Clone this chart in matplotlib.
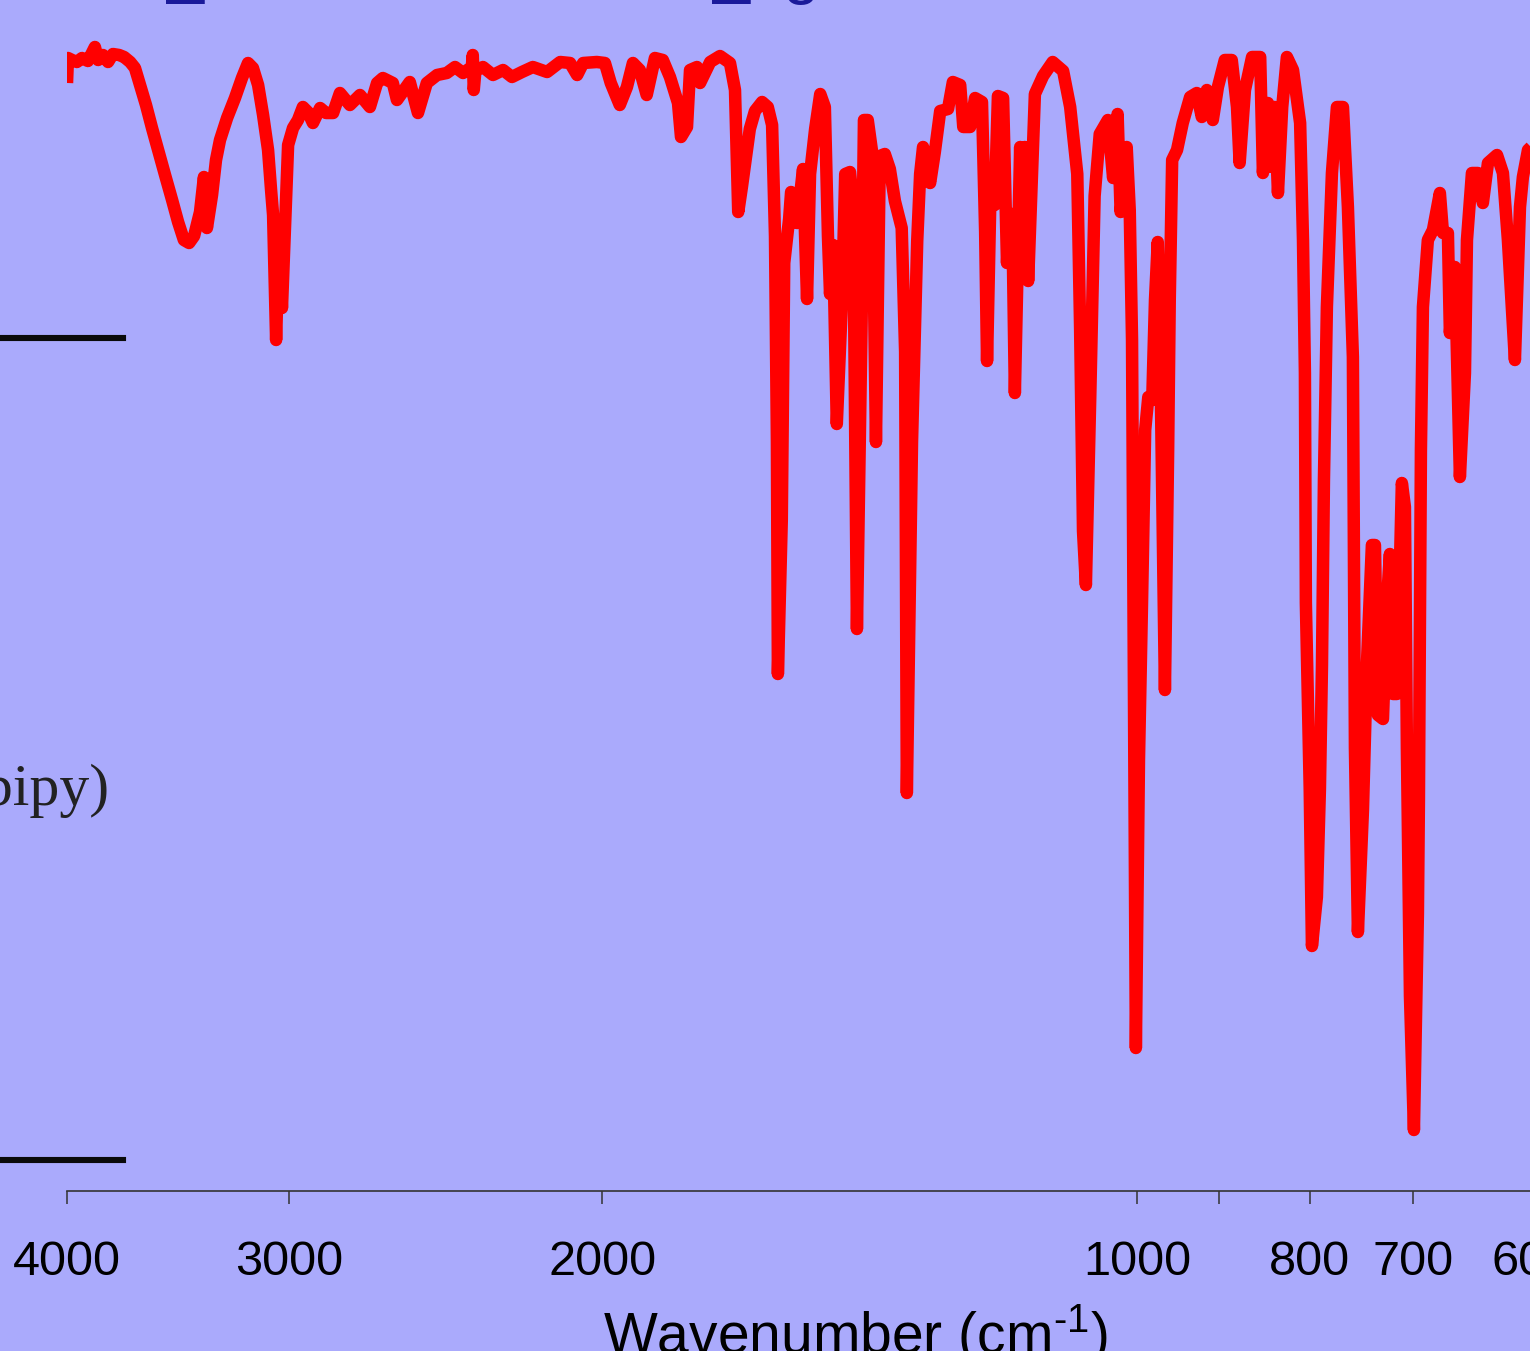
import matplotlib
matplotlib.use("Agg")
import matplotlib.pyplot as plt
from matplotlib.lines import Line2D
from matplotlib.ticker import FixedLocator, FixedFormatter, NullLocator

plt.rcParams['font.family'] = ['Liberation Sans', 'DejaVu Sans']
plt.rcParams['mathtext.fontset'] = 'custom'
plt.rcParams['mathtext.rm'] = 'Liberation Sans'

# IR spectrum
wavenumber = [
    4000, 3995, 3974, 3949, 3923, 3893, 3858, 3842, 3818, 3793, 3769, 3739, 3715, 3686, 3663,
    3639, 3611, 3583, 3555, 3523, 3491, 3464, 3438, 3415, 3393, 3367, 3350, 3337, 3315, 3298,
    3281, 3251, 3218, 3189, 3164, 3144, 3123, 3103, 3083, 3071, 3063, 3051, 3040, 3028, 3012,
    3004, 2985, 2966, 2947, 2928, 2909, 2882, 2860, 2834, 2809, 2773, 2737, 2702, 2677, 2657,
    2623, 2609, 2566, 2539, 2510, 2477, 2446, 2420, 2395, 2368, 2365, 2362, 2357, 2334, 2304,
    2274, 2248, 2219, 2188, 2148, 2112, 2085, 2066, 2050, 2014, 1993, 1978, 1955, 1937, 1922,
    1905, 1888, 1868, 1849, 1832, 1813, 1806, 1792, 1785, 1769, 1762, 1739, 1717, 1695, 1684,
    1677, 1669, 1652, 1641, 1626, 1614, 1605, 1599, 1595, 1593, 1585, 1580, 1570, 1566, 1554,
    1542, 1534, 1528, 1518, 1508, 1499, 1493, 1489, 1483, 1476, 1466, 1460, 1451, 1445, 1438,
    1429, 1425, 1418, 1410, 1403, 1396, 1387, 1378, 1369, 1357, 1351, 1348, 1343, 1339, 1330,
    1325, 1320, 1308, 1300, 1291, 1278, 1270, 1258, 1253, 1242, 1234, 1223, 1218, 1215, 1210,
    1203, 1198, 1190, 1184, 1181, 1176, 1172, 1164, 1161, 1157, 1152, 1145, 1142, 1130, 1116,
    1101, 1091, 1081, 1077, 1073, 1069, 1063, 1057, 1050, 1043, 1039, 1032, 1026, 1022, 1014,
    1010, 1007, 1004.5, 1002, 998, 994, 990, 986, 981, 977.5, 974, 970, 965, 961, 959,
    956, 950, 943, 934, 926, 920, 914, 907, 901, 893, 885, 879, 876, 870, 862,
    853, 850, 844.5, 840, 837, 833.6, 829, 824, 817.5, 810, 807, 805, 804, 800, 797.7,
    792.6, 789.5, 787.4, 785.4, 782.4, 777.3, 772.3, 766.3, 761.4, 756.5, 754.5, 751.6, 746.7, 742.9, 738.1,
    735.2, 732.4, 727.6, 723.9, 721.1, 718.3, 714.6, 710, 707.2, 705.4, 702.6, 699, 695.4, 694.5, 692.7,
    690.9, 686.5, 682, 675.9, 673.2, 668.9, 667.2, 662.9, 658.6, 654.3, 652.6, 648.4, 643.4, 639.3, 635.1,
    627.7, 622.9, 618.9, 613.3, 609.3, 607, 603, 599,
]
transmittance = [
    110.8, 113.3, 113.1, 112.9, 113.3, 113.0, 114.4, 113.1, 113.6, 112.9, 113.7, 113.6, 113.4, 112.9, 112.3,
    110.6, 108.6, 106.3, 104.1, 101.6, 99.1, 96.9, 95.1, 94.8, 95.5, 97.9, 101.4, 96.3, 99.6, 103.1,
    105.1, 107.3, 109.3, 111.3, 112.8, 112.3, 110.6, 107.6, 104.1, 100.1, 97.6, 85.1, 95.9, 88.3, 99.1,
    104.6, 106.3, 107.1, 108.4, 107.9, 106.8, 108.3, 107.8, 107.8, 109.8, 108.6, 109.6, 108.4, 110.8, 111.3,
    110.8, 109.1, 110.9, 107.8, 110.8, 111.6, 111.8, 112.4, 111.8, 112.4, 113.6, 110.1, 112.0, 112.4, 111.6,
    112.1, 111.4, 111.9, 112.4, 111.9, 112.9, 112.8, 111.6, 112.8, 112.9, 112.8, 110.8, 108.6, 110.4, 112.8,
    112.1, 109.6, 113.3, 113.1, 111.4, 108.8, 105.4, 106.4, 112.1, 112.4, 110.8, 112.9, 113.5, 112.8, 110.1,
    97.9, 100.4, 106.2, 108.0, 108.9, 108.4, 106.6, 95.5, 74.9, 51.7, 67.1, 92.8, 97.2, 99.9, 96.8,
    102.2, 89.2, 101.7, 106.2, 109.7, 108.4, 95.5, 89.7, 94.6, 76.7, 89.2, 101.7, 101.9, 98.6, 56.2,
    88.3, 107.1, 107.1, 103.9, 74.9, 103.5, 103.7, 102.2, 99.0, 96.3, 83.9, 39.8, 59.1, 74.9, 95.0,
    101.7, 104.4, 100.8, 103.9, 108.0, 108.2, 110.9, 110.6, 106.4, 106.4, 109.3, 108.9, 95.9, 83.0, 98.6,
    98.6, 109.5, 109.3, 92.8, 97.2, 97.7, 79.8, 104.4, 91.9, 104.4, 91.0, 103.9, 109.7, 111.5, 112.9,
    112.0, 108.4, 101.7, 86.1, 66.0, 60.6, 79.4, 99.5, 105.7, 106.6, 107.1, 101.3, 107.7, 97.9, 104.4,
    98.1, 85.1, 49.1, 14.3, 43.1, 59.1, 76.1, 79.4, 79.1, 89.1, 94.9, 79.1, 50.1, 74.1, 89.1,
    103.1, 104.1, 106.8, 109.4, 109.8, 107.4, 110.1, 107.1, 110.4, 113.1, 113.1, 108.4, 102.8, 110.1, 113.4,
    113.4, 101.8, 108.8, 102.4, 108.4, 99.8, 108.4, 113.4, 112.1, 106.8, 95.1, 81.8, 58.8, 40.2, 24.5,
    29.4, 40.2, 52.6, 71.1, 88.4, 101.8, 108.4, 108.4, 98.4, 83.4, 44.3, 25.9, 38.1, 52.6, 64.6,
    64.6, 47.6, 47.2, 58.8, 63.7, 49.7, 49.7, 70.8, 68.4, 44.3, 19.5, 6.1, 27.8, 39.1, 74.1,
    88.4, 95.1, 96.1, 99.8, 95.8, 95.8, 85.8, 92.4, 71.4, 81.8, 95.1, 101.8, 101.8, 98.8, 102.8,
    103.6, 101.8, 95.1, 83.1, 98.4, 101.4, 104.1, 104.6,
]

tick_values = [4000, 3000, 2000, 1000, 900, 800, 700, 600]
tick_labels = ['4000', '3000', '2000', '1000', '', '800', '700', '600']

bg = '#AAAAFC'
fig = plt.figure(figsize=(15.3, 13.51), dpi=100, facecolor=bg)
ax = fig.add_axes([67 / 1530, 160 / 1351, 1473 / 1530, 1191 / 1351])
ax.set_facecolor(bg)

ax.plot(wavenumber, transmittance, color='#FF0000', lw=9, solid_joinstyle='round',
        solid_capstyle='butt')

ax.set_xscale('log')
ax.set_xlim(4000, 593.7)
ax.set_ylim(0, 119.1)
ax.xaxis.set_major_locator(FixedLocator(tick_values))
ax.xaxis.set_major_formatter(FixedFormatter(tick_labels))
ax.xaxis.set_minor_locator(NullLocator())
ax.set_yticks([])
for s in ['left', 'right', 'top']:
    ax.spines[s].set_visible(False)
ax.spines['bottom'].set_color('#333333')
ax.spines['bottom'].set_linewidth(1.2)
ax.tick_params(axis='x', direction='out', length=9.5, width=1.1, color='#333333',
               labelsize=35, pad=26, labelcolor='black')

# hyphen (U+2010) instead of the long mathtext minus
fig.text(855 / 1530, -3 / 1351, 'Wavenumber (cm$^{\\mathregular{\u20101}}$)', ha='center',
         va='baseline', fontsize=41, color='black')

# pieces of neighbouring panels cut by the crop
for yy in [338, 1160]:
    fig.add_artist(Line2D([0, 123 / 1530], [1 - yy / 1351, 1 - yy / 1351],
                          color='#0a0a0a', lw=4.4, transform=fig.transFigure))
fig.text(110 / 1530, 1 - 805 / 1351, '(bipy)', ha='right', va='baseline',
         fontsize=43, color='#222222', family=['Liberation Serif', 'DejaVu Serif'])

fig.text(186 / 1530, 1.0065, '_', ha='center', va='baseline', fontsize=48, color='#1a1a9a')
fig.text(731 / 1530, 1.0065, '_', ha='center', va='baseline', fontsize=48, color='#1a1a9a')
fig.text(801 / 1530, 1.0065, 'g', ha='center', va='baseline', fontsize=48, color='#1a1a9a')

fig.savefig('out.png', dpi=100, facecolor=fig.get_facecolor())
